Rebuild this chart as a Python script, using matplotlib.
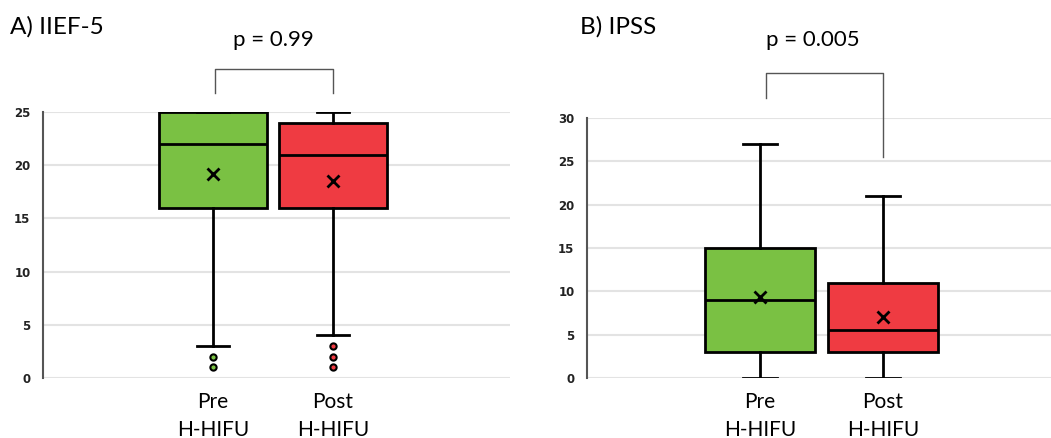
import matplotlib
matplotlib.use("Agg")
import matplotlib.pyplot as plt

# ==================== DATA ====================

groups = ["Pre\nH-HIFU", "Post\nH-HIFU"]

# A) IIEF-5 box stats: low whisker, q1, median, q3, high whisker, mean
iief_low = [3, 4]
iief_q1 = [16, 16]
iief_med = [22, 21]
iief_q3 = [25, 24]
iief_high = [25, 25]
iief_mean = [19.2, 18.5]
iief_fliers = [[2, 1], [3, 2, 1]]
iief_p = "p = 0.99"

# B) IPSS box stats
ipss_low = [0, 0]
ipss_q1 = [3, 3]
ipss_med = [9, 5.5]
ipss_q3 = [15, 11]
ipss_high = [27, 21]
ipss_mean = [9.3, 7.0]
ipss_fliers = [[], []]
ipss_p = "p = 0.005"

colors = ["#7AC143", "#EF3B42"]

FONT = "Lato"

# ==================== HELPERS ====================

def make_stats(low, q1, med, q3, high, mean, fliers):
    stats = []
    for i in range(len(low)):
        stats.append(dict(whislo=low[i], q1=q1[i], med=med[i], q3=q3[i],
                          whishi=high[i], mean=mean[i], fliers=fliers[i]))
    return stats

def draw_panel(ax, stats, ymax, xlim):
    bp = ax.bxp(stats, positions=[1, 2], widths=0.9, patch_artist=True,
                showmeans=True, showfliers=True,
                boxprops=dict(linewidth=2, edgecolor="black"),
                medianprops=dict(color="black", linewidth=2),
                whiskerprops=dict(color="black", linewidth=2),
                capprops=dict(color="black", linewidth=2),
                meanprops=dict(marker="x", markeredgecolor="black",
                               markersize=8, markeredgewidth=2),
                flierprops=dict(marker="o", markersize=4.5,
                                markeredgecolor="black", markeredgewidth=1.5))
    for i, box in enumerate(bp["boxes"]):
        box.set_facecolor(colors[i])
    for i, fl in enumerate(bp["fliers"]):
        fl.set_markerfacecolor(colors[i])
    for cap in bp["caps"]:
        x = cap.get_xdata()
        mid = (x[0] + x[1]) / 2
        cap.set_xdata([mid - 0.135, mid + 0.135])

    ax.set_xlim(*xlim)
    ax.set_ylim(0, ymax)
    ax.set_yticks(range(0, ymax + 1, 5))
    ax.yaxis.grid(True, color="#e3e3e3", linewidth=1.5)
    ax.set_axisbelow(True)
    for s in ["top", "right", "bottom"]:
        ax.spines[s].set_visible(False)
    ax.spines["left"].set_color("#555555")
    ax.spines["left"].set_linewidth(1.5)
    ax.tick_params(axis="both", length=0)
    ax.tick_params(axis="y", pad=9)
    for lbl in ax.get_yticklabels():
        lbl.set_fontweight("bold")
        lbl.set_fontsize(8.5)
        lbl.set_color("#222222")
        lbl.set_family("DejaVu Sans")
    ax.set_xticks([1, 2])
    ax.set_xticklabels(groups, fontsize=15, family=FONT, linespacing=1.5)
    ax.tick_params(axis="x", pad=10)

def bracket(ax, x1, x2, ytop, yl, yr, text, tx, ty):
    ax.plot([x1, x1, x2, x2], [yl, ytop, ytop, yr], color="#555555",
            linewidth=1, clip_on=False)
    ax.text(tx, ty, text, ha="center", va="center", fontsize=16,
            family=FONT, clip_on=False)

# ==================== FIGURE ====================

fig = plt.figure(figsize=(10.51, 4.38), dpi=100)

ax1 = fig.add_axes([43 / 1051, 1 - 378 / 438, 467 / 1051, 266 / 438])
ax2 = fig.add_axes([587 / 1051, 1 - 378 / 438, 464 / 1051, 260 / 438])

draw_panel(ax1, make_stats(iief_low, iief_q1, iief_med, iief_q3,
                           iief_high, iief_mean, iief_fliers),
           25, (-0.417, 3.475))
draw_panel(ax2, make_stats(ipss_low, ipss_q1, ipss_med, ipss_q3,
                           ipss_high, ipss_mean, ipss_fliers),
           30, (-0.407, 3.366))

bracket(ax1, 1.02, 2.0, 29.0, 26.8, 26.8, iief_p, 1.5, 31.8)
bracket(ax2, 1.05, 2.0, 35.2, 32.3, 25.5, ipss_p, 1.43, 39.0)

fig.text(10 / 1051, 1 - 27 / 438, "A) IIEF-5", fontsize=17.5, family=FONT,
         ha="left", va="center")
fig.text(580 / 1051, 1 - 27 / 438, "B) IPSS", fontsize=17.5, family=FONT,
         ha="left", va="center")

fig.savefig("out.png", dpi=100)
